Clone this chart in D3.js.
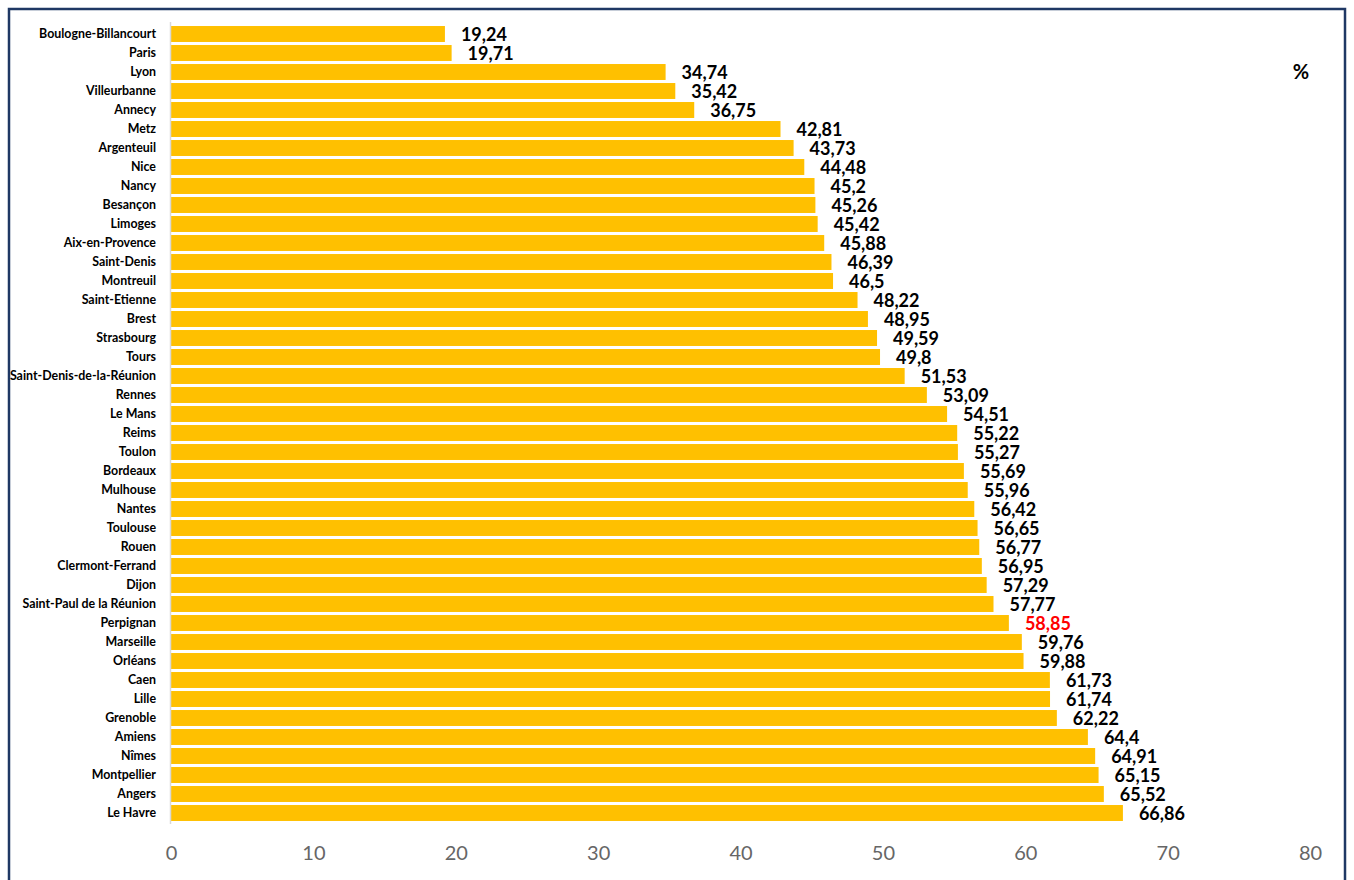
<!DOCTYPE html>
<html>
<head>
<meta charset="utf-8">
<script src="https://cdn.jsdelivr.net/npm/d3@7"></script>
<style>
  html, body { margin: 0; padding: 0; background: #fff; }
  svg { display: block; }
  text { font-family: Lato, "Open Sans", "Liberation Sans", sans-serif; }
</style>
</head>
<body>
<svg id="chart" width="1354" height="880"></svg>
<script>
// Cities, in display order (top to bottom)
const cities = [
  "Boulogne-Billancourt", "Paris", "Lyon", "Villeurbanne", "Annecy", "Metz",
  "Argenteuil", "Nice", "Nancy", "Besançon", "Limoges", "Aix-en-Provence",
  "Saint-Denis", "Montreuil", "Saint-Etienne", "Brest", "Strasbourg", "Tours",
  "Saint-Denis-de-la-Réunion", "Rennes", "Le Mans", "Reims", "Toulon",
  "Bordeaux", "Mulhouse", "Nantes", "Toulouse", "Rouen", "Clermont-Ferrand",
  "Dijon", "Saint-Paul de la Réunion", "Perpignan", "Marseille", "Orléans",
  "Caen", "Lille", "Grenoble", "Amiens", "Nîmes", "Montpellier", "Angers",
  "Le Havre"
];

// Percentage for each city
const values = [
  19.24, 19.71, 34.74, 35.42, 36.75, 42.81,
  43.73, 44.48, 45.2, 45.26, 45.42, 45.88,
  46.39, 46.5, 48.22, 48.95, 49.59, 49.8,
  51.53, 53.09, 54.51, 55.22, 55.27,
  55.69, 55.96, 56.42, 56.65, 56.77, 56.95,
  57.29, 57.77, 58.85, 59.76, 59.88,
  61.73, 61.74, 62.22, 64.4, 64.91, 65.15, 65.52,
  66.86
];

// City whose value is highlighted
const highlighted = ["Perpignan"];

const xTicks = [0, 10, 20, 30, 40, 50, 60, 70, 80];
const unitLabel = "%";

const data = cities.map((c, i) => ({ city: c, value: values[i] }));

const svg = d3.select("#chart");
const W = 1354, H = 880;

// Frame
svg.append("rect")
  .attr("x", 9).attr("y", 9)
  .attr("width", W - 18).attr("height", H + 20)
  .attr("fill", "none")
  .attr("stroke", "#1F3864")
  .attr("stroke-width", 2.5);

const x = d3.scaleLinear().domain([0, 80]).range([171, 1310]);
const y = d3.scaleBand()
  .domain(cities)
  .range([24.5, 822.5])
  .paddingInner(0.16)
  .paddingOuter(0.08);

// Bars
svg.append("g").selectAll("rect")
  .data(data)
  .join("rect")
  .attr("x", x(0))
  .attr("y", d => y(d.city))
  .attr("width", d => x(d.value) - x(0))
  .attr("height", y.bandwidth())
  .attr("fill", "#FFC000");

// Category axis line
svg.append("line")
  .attr("x1", x(0) - 0.5).attr("x2", x(0) - 0.5)
  .attr("y1", 22).attr("y2", 824)
  .attr("stroke", "#D9D9D9")
  .attr("stroke-width", 1.5);

// City labels
svg.append("g").selectAll("text")
  .data(data)
  .join("text")
  .attr("x", 156)
  .attr("y", d => y(d.city) + y.bandwidth() / 2)
  .attr("dy", "0.35em")
  .attr("text-anchor", "end")
  .attr("font-size", 12.4)
  .attr("font-weight", 700)
  .attr("fill", "#000")
  .text(d => d.city);

// Value labels
const fmt = v => String(v).replace(".", ",");
svg.append("g").selectAll("text")
  .data(data)
  .join("text")
  .attr("x", d => x(d.value) + 16)
  .attr("y", d => y(d.city) + y.bandwidth() / 2 + 1)
  .attr("dy", "0.35em")
  .attr("font-size", 18)
  .attr("font-weight", 700)
  .attr("fill", d => highlighted.includes(d.city) ? "#FF0000" : "#000")
  .text(d => fmt(d.value));

// Value axis (labels only)
const xAxis = svg.append("g")
  .attr("transform", "translate(0,846)")
  .call(d3.axisBottom(x).tickValues(xTicks).tickSize(0).tickPadding(0));
xAxis.select(".domain").remove();
xAxis.selectAll("text")
  .attr("font-size", 20)
  .attr("font-weight", 400)
  .attr("fill", "#666666")
  .attr("font-family", "Lato, 'Open Sans', sans-serif");

// Unit label
svg.append("text")
  .attr("x", 1301)
  .attr("y", 72)
  .attr("dy", "0.35em")
  .attr("text-anchor", "middle")
  .attr("font-size", 20)
  .attr("font-weight", 700)
  .attr("fill", "#000")
  .text(unitLabel);
</script>
</body>
</html>
